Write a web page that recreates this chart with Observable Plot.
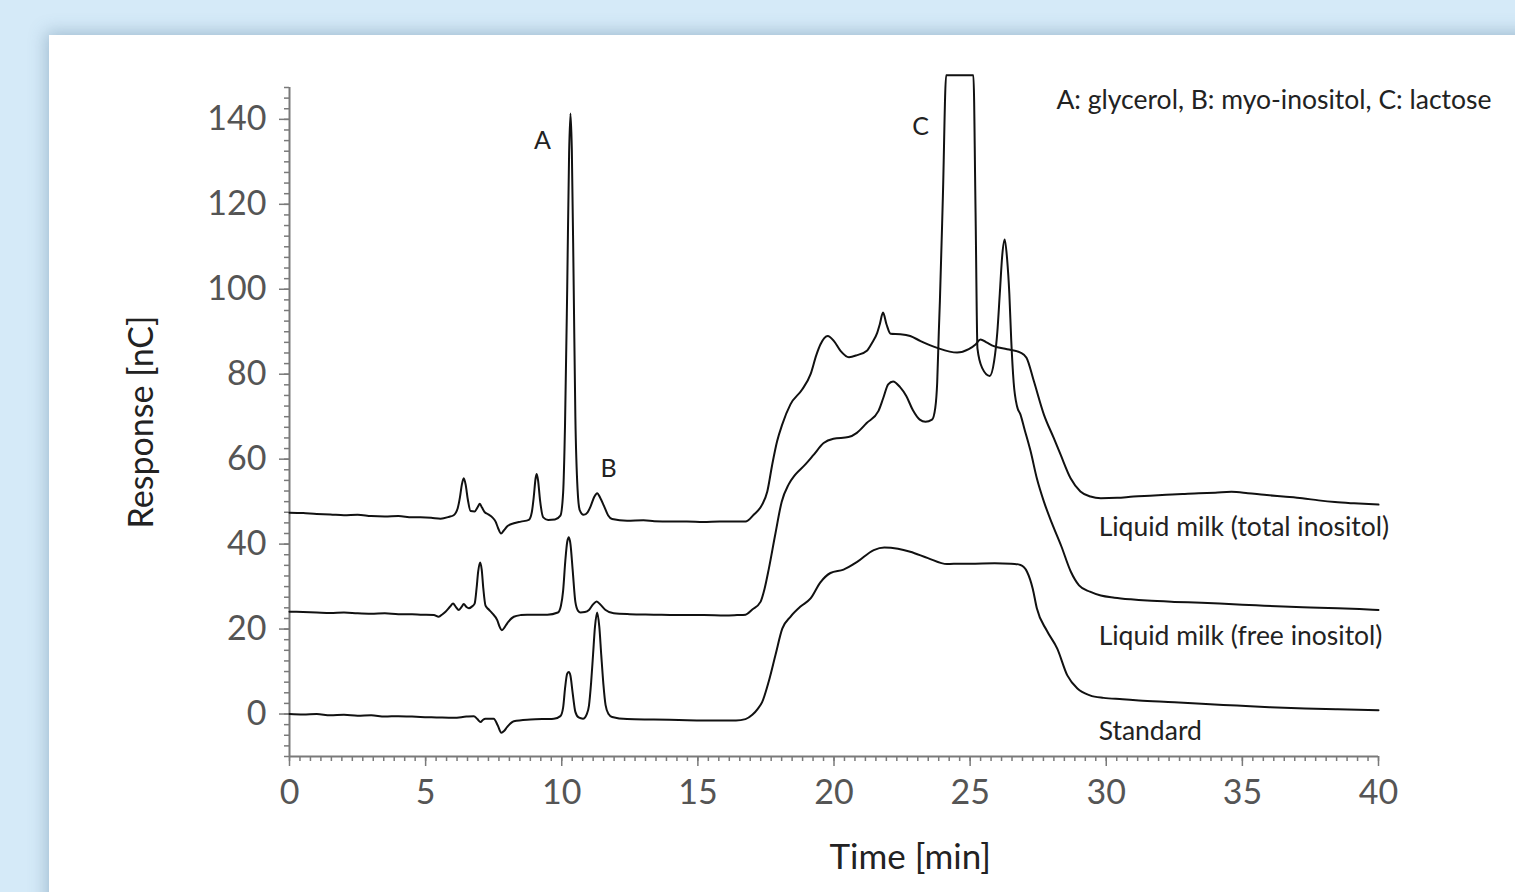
<!DOCTYPE html>
<html><head><meta charset="utf-8">
<script src="https://cdn.jsdelivr.net/npm/d3@7"></script>
<script src="https://cdn.jsdelivr.net/npm/@observablehq/plot@0.6"></script>
<style>
html,body{margin:0;padding:0;width:1515px;height:892px;overflow:hidden;background:#d5eaf8;}
#panel{position:absolute;left:49px;top:35px;width:1530px;height:900px;background:#fff;box-shadow:0 0 16px 3px rgba(70,110,140,0.35);}
#chart{position:absolute;left:0;top:0;}
</style></head><body><div id="panel"></div><div id="chart"></div>
<script>
// time [min], response [nC]
const totalInositol = [
[0,47.4],[0.5,47.3],[1,47.1],[1.5,47.0],[2,46.8],[2.5,46.9],[3,46.6],[3.5,46.5],[4,46.6],[4.5,46.3],[4.81,46.3],[5.2,46.2],[5.55,46.0],[5.85,46.4],[6.03,46.8],[6.18,48.5],[6.26,51.0],[6.33,54.0],[6.4,55.5],[6.47,54.0],[6.55,50.5],[6.65,47.8],[6.8,47.7],[6.92,48.8],[6.99,49.5],[7.07,48.6],[7.16,47.6],[7.3,47.0],[7.45,46.3],[7.57,45.3],[7.66,43.8],[7.77,42.5],[7.87,43.2],[8.0,44.2],[8.24,44.9],[8.5,45.3],[8.79,45.7],[8.9,47.5],[8.97,51.0],[9.04,55.5],[9.08,56.5],[9.13,55.0],[9.2,50.5],[9.32,46.3],[9.5,45.7],[9.75,45.8],[9.95,46.7],[10.05,52],[10.12,68],[10.2,100],[10.27,132],[10.32,141.4],[10.37,133],[10.44,100],[10.5,70],[10.58,53],[10.66,48],[10.8,46.9],[10.95,47.5],[11.06,48.9],[11.2,51.2],[11.3,52.0],[11.42,50.8],[11.55,49.0],[11.7,46.8],[11.85,45.9],[12.4,45.5],[13.0,45.6],[13.4,45.4],[14.0,45.3],[14.6,45.3],[15.2,45.2],[15.8,45.3],[16.4,45.3],[16.75,45.3],[17.05,46.9],[17.36,49.3],[17.55,52.4],[17.73,58.7],[17.91,64.2],[18.1,68.2],[18.4,72.9],[18.83,76.4],[19.14,80.0],[19.35,84.5],[19.5,87.0],[19.77,89.0],[20.0,87.8],[20.24,85.5],[20.55,84.0],[20.85,84.5],[21.22,85.6],[21.4,87.4],[21.59,89.8],[21.68,91.7],[21.8,94.5],[21.93,91.7],[22.08,89.5],[22.44,89.4],[22.8,89.0],[23.18,87.8],[23.79,86.2],[24.52,85.1],[24.95,85.9],[25.2,87.0],[25.38,88.2],[25.6,87.5],[25.87,86.6],[26.36,85.9],[26.85,85.1],[27.07,83.9],[27.34,78.4],[27.71,70.5],[28.07,65.0],[28.32,61.1],[28.69,55.5],[29.05,52.4],[29.42,51.2],[29.8,50.8],[30.4,50.9],[31.0,51.2],[31.6,51.4],[32.2,51.6],[32.8,51.8],[33.4,52.0],[34.0,52.1],[34.6,52.3],[35.2,52.0],[35.8,51.6],[36.5,51.2],[37.2,50.8],[37.8,50.3],[38.4,49.9],[39.1,49.6],[40,49.3]
];
const freeInositol = [
[0,24.1],[0.5,24.0],[1,23.9],[1.5,23.8],[2,23.9],[2.5,23.7],[3,23.6],[3.5,23.7],[4,23.5],[4.5,23.5],[4.81,23.4],[5.3,23.3],[5.48,22.9],[5.62,23.5],[5.73,24.1],[5.9,25.3],[6.01,26.0],[6.1,25.3],[6.22,24.5],[6.32,25.2],[6.4,25.9],[6.5,25.2],[6.59,24.9],[6.7,25.3],[6.8,26.0],[6.87,29.5],[6.93,33.5],[7.0,35.7],[7.06,34],[7.12,29.5],[7.2,25.5],[7.32,24.6],[7.45,23.7],[7.63,22.1],[7.72,20.5],[7.8,19.7],[7.9,20.4],[7.99,21.3],[8.24,22.9],[8.5,23.3],[8.73,23.4],[9.1,23.4],[9.47,23.4],[9.86,23.9],[9.97,25.5],[10.05,29],[10.13,36],[10.2,40.5],[10.26,41.6],[10.32,40],[10.4,34],[10.5,26.4],[10.6,24.3],[10.69,23.9],[10.85,24.0],[11.0,24.5],[11.15,25.8],[11.28,26.5],[11.4,25.9],[11.61,24.5],[11.91,23.7],[12.5,23.5],[13.38,23.4],[14.2,23.3],[15.22,23.3],[16.0,23.2],[16.44,23.3],[16.75,23.4],[17.0,24.6],[17.3,26.4],[17.45,29.5],[17.6,34.0],[17.84,42.2],[18.08,50.0],[18.33,54.0],[18.57,56.3],[18.94,58.7],[19.25,61.0],[19.62,63.8],[19.98,64.8],[20.53,65.2],[20.84,66.2],[21.2,68.5],[21.63,71.3],[21.81,74.4],[21.99,77.6],[22.17,78.3],[22.42,77.0],[22.66,74.8],[22.9,71.5],[23.15,69.3],[23.36,68.8],[23.6,69.3],[23.72,72.1],[23.79,78],[23.85,90],[23.89,97.3],[24.0,122],[24.12,150.4],[24.6,150.4],[25.12,150.4],[25.2,118],[25.27,86],[25.44,81.5],[25.72,79.6],[25.88,83],[26.0,90],[26.09,99],[26.18,108],[26.27,111.7],[26.36,107],[26.44,99],[26.51,88],[26.6,78],[26.72,72.5],[26.85,70.5],[27.0,67],[27.22,61.9],[27.45,55.5],[27.71,50.0],[28.0,45.0],[28.35,39.5],[28.7,33.5],[29.0,30.3],[29.4,28.8],[29.8,27.9],[30.3,27.4],[30.9,27.0],[31.5,26.7],[32.5,26.4],[33.5,26.2],[34.5,25.9],[35.5,25.6],[36.5,25.3],[37.5,25.1],[38.5,24.9],[39.3,24.7],[40,24.5]
];
const standard = [
[0,0.0],[0.5,-0.1],[1,0.0],[1.5,-0.3],[2,-0.2],[2.5,-0.4],[3,-0.3],[3.5,-0.6],[4,-0.5],[4.5,-0.6],[4.81,-0.7],[5.4,-0.8],[6.03,-0.9],[6.5,-0.6],[6.77,-0.5],[6.9,-1.2],[7.02,-1.9],[7.1,-1.4],[7.2,-1.1],[7.5,-1.1],[7.65,-2.7],[7.78,-4.4],[7.88,-4.0],[7.99,-3.1],[8.24,-1.7],[8.85,-1.3],[9.71,-1.1],[9.95,-0.5],[10.05,1.5],[10.12,6.0],[10.2,9.5],[10.26,9.9],[10.32,9.0],[10.4,5.0],[10.5,0.5],[10.62,-0.8],[10.78,-1.1],[10.92,0.0],[11.0,2.0],[11.08,7.5],[11.15,14.0],[11.22,20.5],[11.3,23.9],[11.38,20.5],[11.45,14.0],[11.53,7.0],[11.61,2.1],[11.72,0.0],[11.85,-0.7],[12.4,-1.2],[13.38,-1.3],[14.3,-1.4],[15.22,-1.5],[16.0,-1.5],[16.4,-1.5],[16.75,-1.2],[17.0,-0.2],[17.2,1.2],[17.36,2.8],[17.6,7.6],[17.85,13.9],[18.1,20.1],[18.4,22.9],[18.77,25.3],[19.14,27.2],[19.5,31.0],[19.87,33.2],[20.35,34.0],[20.85,35.8],[21.46,38.6],[21.85,39.2],[22.35,38.9],[22.8,38.2],[23.45,36.7],[24.15,35.3],[24.65,35.4],[25.0,35.4],[25.9,35.5],[26.5,35.4],[26.85,35.1],[27.09,33.5],[27.3,29.5],[27.45,24.9],[27.82,19.6],[28.2,15.4],[28.57,9.1],[28.94,6.0],[29.4,4.4],[29.9,3.8],[30.6,3.5],[31.2,3.2],[32.5,2.8],[33.5,2.4],[34.8,2.0],[36.0,1.6],[37.3,1.3],[38.5,1.1],[40,0.9]
];
const seriesNames = ["Liquid milk (total inositol)", "Liquid milk (free inositol)", "Standard"];
const seriesLabelTime = [29.72, 29.72, 29.72];
const seriesLabelResp = [43.9, 18.2, -4.1];
const peakNames = ["A", "B", "C"];
const peakTime = [9.29, 11.72, 23.18];
const peakResp = [135, 57.8, 138.3];
const noteText = "A: glycerol, B: myo-inositol, C: lactose";
const xMajor = [0, 5, 10, 15, 20, 25, 30, 35, 40];
const yMajor = [0, 20, 40, 60, 80, 100, 120, 140];
const xDomain = [0, 40];
const yDomain = [-10, 147.5];

const xMinor = d3.range(0, 13 * 8 + 1).map(i => i * 5 / 13);
const yMinor = d3.range(0, 64).map(i => -10 + i * 2.5);

const rows = [];
[totalInositol, freeInositol, standard].forEach((pts, i) => {
  for (const [t, v] of pts) rows.push({series: seriesNames[i], t, v});
});
const seriesLabels = seriesNames.map((s, i) => ({s, t: seriesLabelTime[i], v: seriesLabelResp[i]}));
const peaks = peakNames.map((s, i) => ({s, t: peakTime[i], v: peakResp[i]}));

const axisColor = "#7a7a7a";
const chart = Plot.plot({
  width: 1515, height: 892,
  marginLeft: 289, marginRight: 137, marginTop: 87, marginBottom: 136,
  style: {background: "transparent", fontFamily: "Lato, sans-serif", overflow: "visible"},
  x: {domain: xDomain},
  y: {domain: yDomain},
  marks: [
    Plot.axisY({ticks: yMinor, tickSize: 5, tickFormat: () => "", label: null, stroke: axisColor, strokeWidth: 1.5}),
    Plot.axisX({ticks: xMinor, tickSize: 5, tickFormat: () => "", label: null, stroke: axisColor, strokeWidth: 1.5}),
    Plot.axisY({ticks: yMajor, tickSize: 10, tickPadding: 13, fontSize: 34, label: null, stroke: axisColor, fill: "#555", strokeWidth: 1.5}),
    Plot.axisX({ticks: xMajor, tickSize: 10, tickPadding: 13, fontSize: 34, label: null, stroke: axisColor, fill: "#555", strokeWidth: 1.5}),
    Plot.ruleX([xDomain[0]], {stroke: axisColor, strokeWidth: 2}),
    Plot.ruleY([yDomain[0]], {stroke: axisColor, strokeWidth: 2}),
    Plot.line(rows, {x: "t", y: "v", z: "series", stroke: "#111", strokeWidth: 2, curve: "monotone-x"}),
    Plot.text(peaks, {x: "t", y: "v", text: "s", fontSize: 25, fill: "#222"}),
    Plot.text(seriesLabels, {x: "t", y: "v", text: "s", fontSize: 26.5, fill: "#222", textAnchor: "start"}),
    Plot.text([noteText], {x: 28.17, y: 144.4, text: d => d, fontSize: 26.5, fill: "#222", textAnchor: "start"}),
    Plot.text(["Time [min]"], {x: 22.8, frameAnchor: "bottom", dy: 112, text: d => d, fontSize: 35, fill: "#222"}),
    Plot.text(["Response [nC]"], {frameAnchor: "left", dx: -147, rotate: -90, textAnchor: "middle", text: d => d, fontSize: 34, fill: "#222"})
  ]
});
document.getElementById("chart").appendChild(chart);
</script>
</body></html>
